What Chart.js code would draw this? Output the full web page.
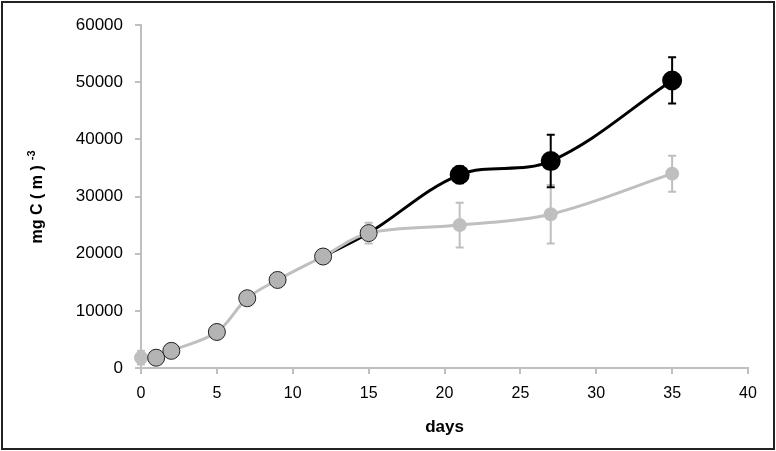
<!DOCTYPE html>
<html>
<head>
<meta charset="utf-8">
<script src="https://cdn.jsdelivr.net/npm/chart.js@4/dist/chart.umd.min.js"></script>
<style>
  body { margin: 0; background: #fff; }
  #wrap { width: 776px; height: 451px; position: relative; }
</style>
</head>
<body>
<div id="wrap"><canvas id="chart"></canvas></div>
<script>
// --------------------- DATA ------------------------
const days = [0, 1, 2, 5, 7, 9, 12, 15, 21, 27, 35];
const grayVals = [1800, 1800, 3000, 6300, 12200, 15400, 19500, 23600, 25000, 26900, 34000];
const grayErr = [1200, 0, 0, 0, 0, 0, 0, 1800, 3900, 5100, 3150];

const blackDays = [12, 15, 21, 27, 35];
const blackVals = [19500, 23600, 33800, 36200, 50300];
const blackErr = [0, 0, 1500, 4600, 4050];

const xTicks = [0, 5, 10, 15, 20, 25, 30, 35, 40];
const yTitle = 'mg C ( m )';
const yTitleSup = '-3';
const xTitle = 'days';

const FONT = '"Liberation Sans", Arial, sans-serif';
const NARROW = '"Liberation Sans Narrow", "Arial Narrow", "Liberation Sans", sans-serif';
const LIGHT = '#bfbfbf';

// --------------------- PLUGINS ------------------------
const errorBars = {
    id: 'errorBars',
    beforeDatasetsDraw(chart) {
        const ctx = chart.ctx;
        const xs = chart.scales.x, ys = chart.scales.y;
        const sets = [
            { d: days, v: grayVals, e: grayErr, c: LIGHT },
            { d: blackDays, v: blackVals, e: blackErr, c: '#000' }
        ];
        ctx.save();
        ctx.lineWidth = 2;
        sets.forEach(s => {
            ctx.strokeStyle = s.c;
            s.d.forEach((day, i) => {
                if (!s.e[i]) return;
                let x = xs.getPixelForValue(day);
                let y1 = ys.getPixelForValue(s.v[i] + s.e[i]);
                let y2 = ys.getPixelForValue(s.v[i] - s.e[i]);
                ctx.beginPath();
                ctx.moveTo(x, y1); ctx.lineTo(x, y2);
                ctx.moveTo(x - 4, y1); ctx.lineTo(x + 4, y1);
                ctx.moveTo(x - 4, y2); ctx.lineTo(x + 4, y2);
                ctx.stroke();
            });
        });
        ctx.restore();
    }
};

const frame = {
    id: 'frame',
    afterDraw(chart) {
        const ctx = chart.ctx;
        ctx.save();
        // outer border
        ctx.strokeStyle = '#222';
        ctx.lineWidth = 2;
        ctx.strokeRect(2, 2, chart.width - 4, chart.height - 4);

        // y axis title with superscript
        ctx.translate(38, 197);
        ctx.rotate(-Math.PI / 2);
        ctx.fillStyle = '#000';
        ctx.font = 'bold 16px ' + FONT;
        let w1 = ctx.measureText(yTitle).width;
        ctx.font = 'bold 11px ' + FONT;
        let w2 = ctx.measureText(yTitleSup).width;
        let start = -(w1 + 5 + w2) / 2;
        ctx.textBaseline = 'middle';
        ctx.textAlign = 'left';
        ctx.font = 'bold 16px ' + FONT;
        ctx.fillText(yTitle, start, 0);
        ctx.font = 'bold 11px ' + FONT;
        ctx.fillText(yTitleSup, start + w1 + 5, -6);
        ctx.restore();
    }
};

// --------------------- CHART ------------------------
const outlined = (c) => c.dataIndex >= 1 && c.dataIndex <= 7;

new Chart(document.getElementById('chart'), {
    type: 'line',
    data: {
        datasets: [
            {
                label: 'gray',
                data: days.map((d, i) => ({ x: d, y: grayVals[i] })),
                borderColor: LIGHT,
                borderWidth: 3,
                tension: 0.35,
                clip: false,
                pointRadius: c => outlined(c) ? 8.5 : 7,
                pointBackgroundColor: c => outlined(c) ? '#b4b4b4' : LIGHT,
                pointBorderColor: c => outlined(c) ? '#222' : LIGHT,
                pointBorderWidth: c => outlined(c) ? 1 : 0,
                order: 1
            },
            {
                label: 'black',
                data: blackDays.map((d, i) => ({ x: d, y: blackVals[i] })),
                borderColor: '#000',
                borderWidth: 3,
                tension: 0.35,
                clip: false,
                pointRadius: c => c.dataIndex >= 2 ? 8.5 : 0,
                pointBackgroundColor: '#000',
                pointBorderColor: '#000',
                order: 2
            }
        ]
    },
    options: {
        responsive: true,
        maintainAspectRatio: false,
        animation: false,
        events: [],
        layout: { padding: { top: 25, right: 28, bottom: 0, left: 0 } },
        plugins: { legend: { display: false }, tooltip: { enabled: false } },
        scales: {
            x: {
                type: 'linear',
                min: 0, max: 40,
                afterBuildTicks: s => { s.ticks = xTicks.map(v => ({ value: v })); },
                afterFit: s => { s.height = 83; },
                grid: { display: true, drawOnChartArea: false, color: LIGHT, lineWidth: 2, tickLength: 6 },
                border: { color: LIGHT, width: 2 },
                ticks: { color: '#000', font: { family: NARROW, size: 16 }, padding: 10, maxRotation: 0 },
                title: { display: true, text: xTitle, color: '#000', font: { family: NARROW, size: 17, weight: 'bold' }, padding: { top: 4, bottom: 13 } }
            },
            y: {
                min: 0, max: 60000,
                afterFit: s => { s.width = 141; },
                grid: { display: true, drawOnChartArea: false, color: LIGHT, lineWidth: 2, tickLength: 6 },
                border: { color: LIGHT, width: 2 },
                ticks: {
                    stepSize: 10000, color: '#000', font: { family: FONT, size: 17 }, padding: 12,
                    callback: v => String(v)
                }
            }
        }
    },
    plugins: [errorBars, frame]
});
</script>
</body>
</html>
